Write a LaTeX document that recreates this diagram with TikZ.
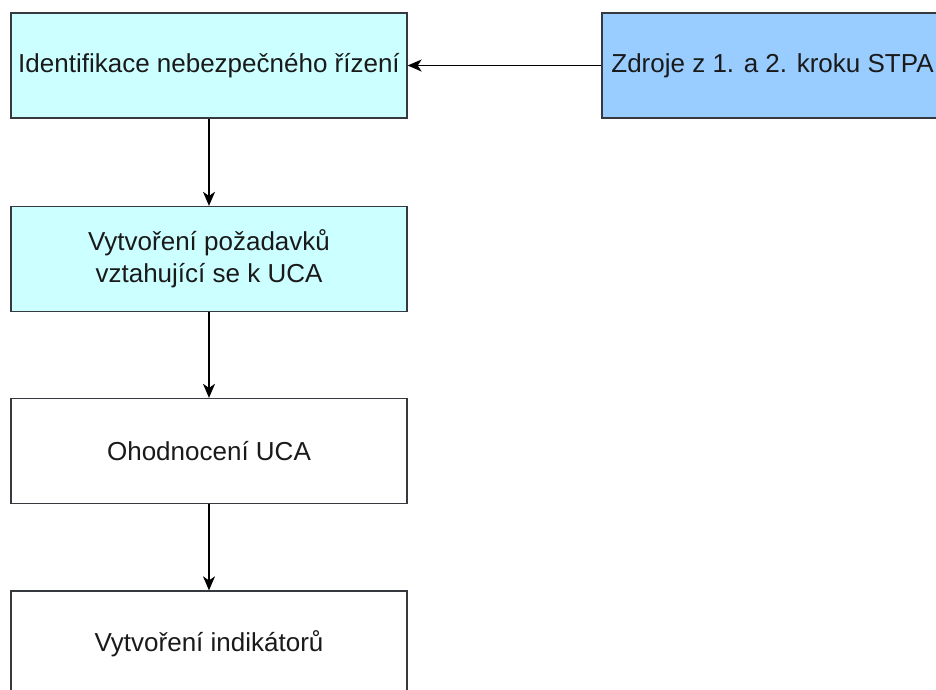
\documentclass[tikz,border=0pt]{standalone}
\usepackage{fontspec}
\setmainfont{Liberation Sans}
\usetikzlibrary{arrows.meta}
\definecolor{edgegray}{HTML}{36393D}
\definecolor{lightcyan}{HTML}{CCFFFF}
\definecolor{skyblue}{HTML}{99CCFF}
\definecolor{inkdark}{HTML}{1A1A1A}
\tikzset{
  stepbox/.style={draw=edgegray, line width=1.3pt, rectangle,
    minimum width=396pt, minimum height=105pt, inner sep=0pt,
    align=center, text=inkdark, font=\fontsize{26}{32}\selectfont},
  steptext/.style={text=inkdark, inner sep=0pt, font=\fontsize{26}{32}\selectfont},
  flow/.style={draw=black, line width=1.3pt,
    -{Stealth[length=14pt, width=12pt, inset=4pt]}}
}
\begin{document}
\begin{tikzpicture}[x=1pt, y=-1pt]
  \useasboundingbox (0,0) rectangle (936,689);
  \clip (0,0) rectangle (936,689);
  % process steps, top to bottom
  \node[stepbox, fill=lightcyan] (ident) at (209,65.5) {Identifikace nebezpečného řízení};
  \node[stepbox, fill=lightcyan] (req) at (209,259) {Vytvoření požadavků\\vztahující se k UCA};
  \node[stepbox, fill=white] (eval) at (209,451) {Ohodnocení UCA};
  \node[stepbox, fill=white] (ind) at (209,643.5) {Vytvoření indikátorů};
  % input from the earlier steps (runs past the right edge)
  \node[stepbox, fill=skyblue, minimum width=396pt] (src) at (800,65.5) {};
  \node[steptext] (srclabel) at (772.5,65.5) {Zdroje z 1. a 2. kroku STPA};
  % connectors
  \draw[flow] (src.west) -- (ident.east);
  \draw[flow] (ident.south) -- (req.north);
  \draw[flow] (req.south) -- (eval.north);
  \draw[flow] (eval.south) -- (ind.north);
\end{tikzpicture}
\end{document}
